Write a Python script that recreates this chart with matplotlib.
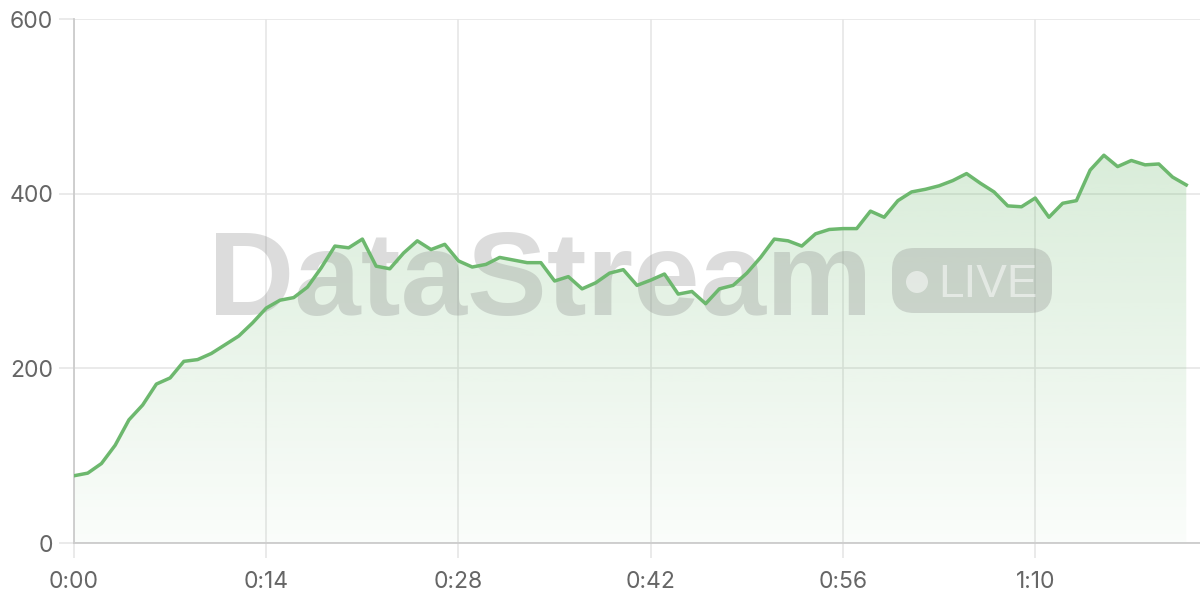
import matplotlib
matplotlib.use('Agg')
import matplotlib.pyplot as plt
import matplotlib.transforms as mtransforms
from matplotlib.patches import FancyBboxPatch, Circle
import numpy as np

# seconds since start
seconds = list(range(82))
values = [77, 80, 91, 112, 141, 158, 182, 189, 208, 210,
          217, 227, 237, 252, 269, 278, 281, 293, 315, 340,
          338, 348, 317, 314, 332, 346, 336, 342, 323, 316,
          319, 327, 324, 321, 321, 300, 305, 291, 298, 309,
          313, 295, 301, 308, 285, 288, 274, 291, 295, 309,
          327, 348, 346, 340, 354, 359, 360, 360, 380, 373,
          392, 402, 405, 409, 415, 423, 412, 402, 386, 385,
          395, 373, 389, 392, 427, 444, 431, 438, 433, 434,
          419, 410]
x_ticks = [0, 14, 28, 42, 56, 70]
y_ticks = [0, 200, 400, 600]

line_color = '#6db86e'
grid_color = '#e6e6e6'
axis_color = '#cccccc'
text_color = '#666666'

plt.rcParams['font.family'] = ['Inter', 'DejaVu Sans']

fig = plt.figure(figsize=(12, 6), dpi=100)
ax = fig.add_axes([74 / 1200, 57 / 600, 1126 / 1200, 524 / 600])

x = np.array(seconds)
y = np.array(values)

# gradient fill under the line
poly = ax.fill_between(x, y, 0, color='none', lw=0)
grad = np.linspace(0.03, 0.26, 256).reshape(-1, 1)
rgba = np.zeros((256, 1, 4))
rgba[..., :3] = matplotlib.colors.to_rgb(line_color)
rgba[..., 3] = grad
img = ax.imshow(rgba, extent=[x[0], x[-1], 0, y.max()], origin='lower',
                aspect='auto', zorder=1)
img.set_clip_path(poly.get_paths()[0], transform=ax.transData)

ax.plot(x, y, color=line_color, lw=2.5, zorder=5, solid_joinstyle='round')

ax.set_xlim(0, 82)
ax.set_ylim(0, 600)
ax.set_xticks(x_ticks)
ax.set_xticklabels(['%d:%02d' % (t // 60, t % 60) for t in x_ticks])
ax.set_yticks(y_ticks)

ax.grid(True, color=grid_color, lw=1.2, zorder=0)
ax.set_axisbelow(True)
for side in ['top', 'right']:
    ax.spines[side].set_visible(False)
for side in ['left', 'bottom']:
    ax.spines[side].set_color(axis_color)
    ax.spines[side].set_linewidth(1.3)
ax.tick_params(length=11, width=1.2, color=grid_color, labelsize=16.5,
               labelcolor=text_color, pad=4)
ax.tick_params(axis='x', pad=9)

# watermark, under the line
px = mtransforms.IdentityTransform()
ax.text(540 / 1200, 285 / 600, 'DataStream', transform=fig.transFigure,
        ha='center', va='baseline', fontsize=86, fontweight='bold',
        family=['Liberation Sans', 'DejaVu Sans'],
        color='#808080', alpha=0.27, zorder=2, clip_on=False)
ax.add_patch(FancyBboxPatch((892, 287), 160, 65,
                            boxstyle='round,pad=0,rounding_size=22',
                            transform=px, facecolor='#808080', alpha=0.27,
                            edgecolor='none', zorder=2, clip_on=False))
ax.add_patch(Circle((917, 318), 11, transform=px, facecolor='white',
                    alpha=0.5, edgecolor='none', zorder=3, clip_on=False))
ax.text(938 / 1200, 303 / 600, 'LIVE', transform=fig.transFigure,
        ha='left', va='baseline', fontsize=33, color='white', alpha=0.5,
        family=['Liberation Sans', 'DejaVu Sans'], zorder=3, clip_on=False)

fig.savefig('out.png', dpi=100)
